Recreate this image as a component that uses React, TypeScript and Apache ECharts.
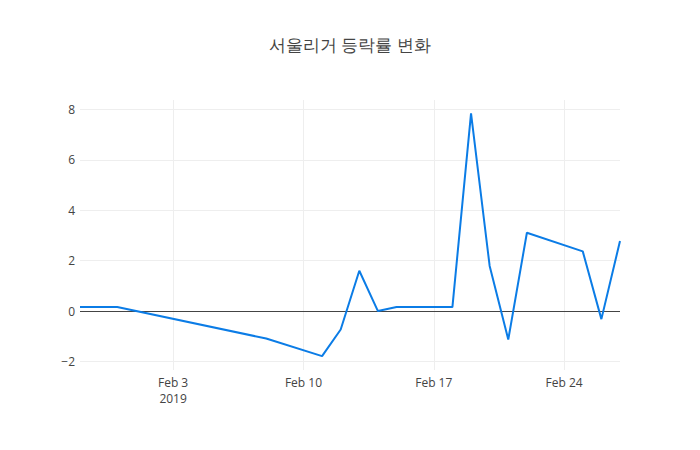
import React, { useEffect, useRef } from "react";
import * as echarts from "echarts";

const title = "서울리거 등락률 변화";
const dates = [
  "2019-01-29", "2019-01-31", "2019-02-08", "2019-02-11", "2019-02-12", "2019-02-13",
  "2019-02-14", "2019-02-15", "2019-02-18", "2019-02-19", "2019-02-20", "2019-02-21",
  "2019-02-22", "2019-02-25", "2019-02-26", "2019-02-27",
];
const values = [0.16, 0.16, -1.09, -1.79, -0.73, 1.6, 0, 0.16, 0.16, 7.85, 1.79, -1.13, 3.11, 2.37, -0.32, 2.78];
const xStart = "2019-01-29";
const xEnd = "2019-02-27";
const xTickDates = ["2019-02-03", "2019-02-10", "2019-02-17", "2019-02-24"];
const yTicks = [-2, 0, 2, 4, 6, 8];
const yMin = -2.34;
const yMax = 8.38;
const months = ["Jan", "Feb", "Mar", "Apr", "May", "Jun", "Jul", "Aug", "Sep", "Oct", "Nov", "Dec"];

const DAY = 86400000;
const originMs = Date.parse(xTickDates[0] + "T00:00:00Z");
const toOffset = (d: string) => Math.round((Date.parse(d + "T00:00:00Z") - originMs) / DAY);

export default function App() {
  const ref = useRef<HTMLDivElement>(null);
  useEffect(() => {
    document.body.style.margin = "0";
    const chart = echarts.init(ref.current!, undefined, { renderer: "svg" });
    const font = '"Open Sans", verdana, arial, sans-serif';
    const xTicks = xTickDates.map(toOffset);
    chart.setOption({
      animation: false,
      backgroundColor: "#fff",
      title: {
        text: title,
        left: "center",
        top: 31,
        textStyle: { fontFamily: font, fontSize: 17, fontWeight: "normal", color: "#444" },
      },
      grid: { left: 80, right: 80, top: 100, bottom: 80, containLabel: false },
      xAxis: {
        type: "value",
        min: toOffset(xStart),
        max: toOffset(xEnd),
        axisLine: { show: false },
        axisTick: { show: false, customValues: xTicks },
        splitLine: { show: true, lineStyle: { color: "#eee", width: 1 } },
        axisLabel: {
          customValues: xTicks,
          margin: 4,
          fontFamily: font,
          fontSize: 12,
          color: "#444",
          lineHeight: 16,
          formatter: (v: number) => {
            const d = new Date(originMs + v * DAY);
            const s = months[d.getUTCMonth()] + " " + d.getUTCDate();
            return v === 0 ? s + "\n" + d.getUTCFullYear() : s;
          },
        },
      },
      yAxis: {
        type: "value",
        min: yMin,
        max: yMax,
        axisLine: { show: false },
        axisTick: { show: false, customValues: yTicks },
        splitLine: { show: true, lineStyle: { color: "#eee", width: 1 } },
        axisLabel: {
          customValues: yTicks,
          margin: 5,
          fontFamily: font,
          fontSize: 12,
          color: "#444",
          formatter: (v: number) => (v < 0 ? "−" + Math.abs(v) : String(v)),
        },
      },
      series: [
        {
          type: "line",
          data: dates.map((d, i) => [toOffset(d), values[i]]),
          showSymbol: false,
          symbol: "none",
          lineStyle: { color: "#0b7ce6", width: 2 },
          markLine: {
            silent: true,
            symbol: "none",
            label: { show: false },
            lineStyle: { color: "#444", width: 1, type: "solid" },
            data: [{ yAxis: 0 }],
            z: 1,
          },
        },
      ],
    });
    return () => chart.dispose();
  }, []);
  return <div ref={ref} style={{ width: 700, height: 450 }} />;
}
